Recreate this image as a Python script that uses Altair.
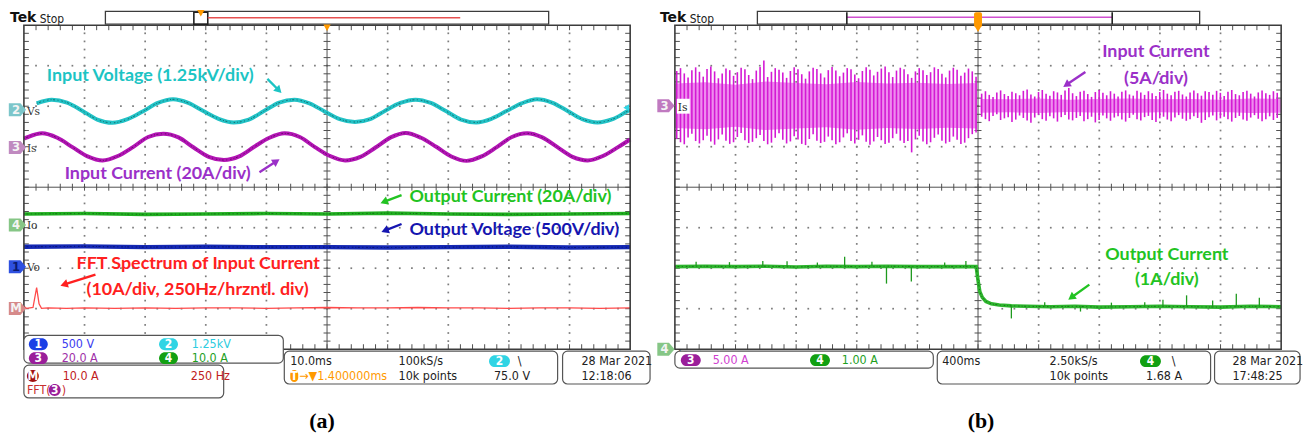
import math
import altair as alt
import pandas as pd

# ======================= DATA (scope divisions) =======================
# x: 0..10 horizontal divisions, y: -4..4 vertical divisions
def tgrid(start, step, n):
    return [round(start + step * i, 4) for i in range(n)]

# ---- Panel (a): 10 ms/div ----
VS_X = tgrid(0.21, 0.25, 40) + [10.0]
VS_Y = [2.07, 2.16, 2.09, 1.89, 1.67, 1.59, 1.68, 1.87,
        2.08, 2.17, 2.08, 1.88, 1.69, 1.60, 1.67, 1.88,
        2.09, 2.16, 2.07, 1.87, 1.68, 1.61, 1.68, 1.89,
        2.08, 2.16, 2.08, 1.88, 1.67, 1.60, 1.69, 1.88,
        2.07, 2.17, 2.09, 1.89, 1.68, 1.60, 1.68, 1.88, 1.91]
IS_X = [0.0] + tgrid(0.05, 0.25, 40) + [10.0]
IS_Y = [1.20,
        1.23, 1.33, 1.22, 0.99, 0.76, 0.66, 0.77, 0.99,
        1.24, 1.32, 1.23, 0.98, 0.75, 0.67, 0.76, 1.00,
        1.22, 1.33, 1.24, 0.99, 0.77, 0.66, 0.75, 0.98,
        1.23, 1.34, 1.22, 1.00, 0.76, 0.65, 0.76, 0.99,
        1.24, 1.33, 1.23, 0.99, 0.75, 0.66, 0.77, 0.99,
        1.18]
FLAT_X = [0, 1, 2, 3, 4, 5, 6, 7, 8, 9, 10]
IO_A_Y = [-0.66, -0.65, -0.67, -0.66, -0.65, -0.66, -0.64, -0.66, -0.67, -0.66, -0.65]
VO_A_Y = [-1.47, -1.46, -1.48, -1.47, -1.48, -1.48, -1.49, -1.48, -1.47, -1.49, -1.48]
FFT_X = [0.0, 0.04, 0.1, 0.15, 0.21, 0.25, 0.29, 0.4, 0.7, 1.0, 1.5, 2.0, 2.5, 3.0,
         3.5, 4.0, 4.5, 5.0, 5.5, 6.0, 6.5, 7.0, 7.5, 8.0, 8.5, 9.0, 9.5, 10.0]
FFT_Y = [-2.94, -2.99, -2.98, -2.97, -2.48, -2.88, -2.99, -2.98, -2.99, -2.98, -2.99,
         -2.98, -2.99, -2.98, -2.98, -2.99, -2.98, -2.97, -2.98, -2.98, -2.97, -2.98,
         -2.98, -2.99, -2.98, -2.98, -2.99, -2.98]

# ---- Panel (b): 400 ms/div ----
IS_B_LEVEL = 2.01
IS_B_LX = tgrid(0.03, 0.0625, 80)
IS_B_LTOP = [0.86, 0.93, 0.80, 0.70, 0.88, 0.95, 0.84, 0.72,
             0.91, 0.97, 0.85, 0.68, 0.80, 0.92, 0.88, 0.74,
             0.83, 0.94, 0.90, 0.76, 0.66, 0.87, 0.96, 1.12,
             0.71, 0.84, 0.93, 0.89, 0.82, 0.69, 0.86, 0.95,
             0.90, 0.78, 0.67, 0.85, 0.94, 0.91, 0.80, 0.70,
             0.88, 0.96, 0.87, 0.73, 0.82, 0.93, 0.90, 0.77,
             0.68, 0.86, 0.95, 0.89, 0.75, 0.84, 0.92, 0.97,
             0.83, 0.71, 0.87, 0.94, 0.90, 0.78, 0.69, 0.85,
             0.93, 0.88, 0.76, 0.83, 0.95, 0.91, 0.79, 0.70,
             0.87, 0.94, 0.89, 0.74, 0.82, 0.92, 0.85, 0.72]
IS_B_LBOT = [0.82, 0.90, 0.95, 0.78, 0.69, 0.87, 0.93, 0.85,
             0.74, 0.88, 0.96, 0.83, 0.71, 0.86, 0.94, 0.90,
             0.77, 0.67, 0.85, 0.92, 0.89, 0.80, 0.72, 0.87,
             0.95, 0.91, 0.79, 0.68, 0.84, 0.93, 0.88, 0.75,
             0.83, 0.94, 0.97, 0.82, 0.70, 0.86, 0.92, 0.89,
             0.76, 0.85, 0.95, 0.90, 0.78, 0.68, 0.87, 0.93,
             0.84, 0.73, 0.89, 0.96, 0.88, 0.77, 0.85, 0.94,
             0.91, 0.80, 0.69, 0.86, 0.92, 0.87, 1.15, 0.83,
             0.74, 0.88, 0.95, 0.90, 0.79, 0.71, 0.86, 0.93,
             0.89, 0.76, 0.84, 0.94, 0.91, 0.80, 0.70, 0.66]
IS_B_RX = tgrid(5.06, 0.0625, 79)
IS_B_RTOP = [0.30, 0.36, 0.27, 0.22, 0.33, 0.38, 0.29, 0.24,
             0.35, 0.31, 0.26, 0.37, 0.40, 0.28, 0.23, 0.34,
             0.39, 0.30, 0.25, 0.36, 0.33, 0.27, 0.38, 0.44,
             0.31, 0.24, 0.35, 0.37, 0.29, 0.22, 0.34, 0.39,
             0.32, 0.26, 0.36, 0.30, 0.23, 0.35, 0.38, 0.28,
             0.25, 0.37, 0.33, 0.27, 0.36, 0.31, 0.24, 0.34,
             0.39, 0.30, 0.26, 0.35, 0.37, 0.28, 0.23, 0.33,
             0.38, 0.31, 0.25, 0.36, 0.34, 0.27, 0.37, 0.32,
             0.24, 0.35, 0.39, 0.29, 0.26, 0.34, 0.37, 0.30,
             0.23, 0.33, 0.38, 0.31, 0.27, 0.36, 0.32]
IS_B_RBOT = [0.27, 0.33, 0.38, 0.25, 0.21, 0.35, 0.31, 0.28,
             0.40, 0.34, 0.24, 0.30, 0.36, 0.42, 0.29, 0.22,
             0.33, 0.37, 0.26, 0.31, 0.39, 0.28, 0.23, 0.34,
             0.36, 0.30, 0.25, 0.38, 0.33, 0.27, 0.41, 0.35,
             0.24, 0.31, 0.37, 0.29, 0.26, 0.34, 0.39, 0.30,
             0.22, 0.33, 0.36, 0.28, 0.25, 0.35, 0.40, 0.31,
             0.27, 0.34, 0.38, 0.29, 0.23, 0.32, 0.37, 0.33,
             0.26, 0.30, 0.42, 0.35, 0.28, 0.24, 0.36, 0.31,
             0.27, 0.33, 0.39, 0.30, 0.25, 0.34, 0.37, 0.29,
             0.23, 0.32, 0.38, 0.33, 0.26, 0.35, 0.30]
BAND_LX = [0.0, 0.5, 1.0, 1.5, 2.0, 2.5, 3.0, 3.5, 4.0, 4.5, 4.98]
BAND_LA = [0.55, 0.58, 0.52, 0.60, 0.56, 0.53, 0.59, 0.55, 0.57, 0.54, 0.56]
BAND_RX = [5.04, 5.5, 6.0, 6.5, 7.0, 7.5, 8.0, 8.5, 9.0, 9.5, 10.0]
BAND_RA = [0.17, 0.16, 0.18, 0.15, 0.17, 0.18, 0.16, 0.17, 0.15, 0.18, 0.17]

IO_B_X = [0, 0.5, 1.0, 1.5, 2.0, 2.5, 3.0, 3.5, 4.0, 4.5, 4.97, 5.0, 5.03, 5.07,
          5.13, 5.22, 5.35, 5.55, 5.8, 6.2, 6.6, 7.0, 7.5, 8.0, 8.5, 9.0, 9.5, 10.0]
IO_B_Y = [-1.96, -1.95, -1.96, -1.95, -1.97, -1.95, -1.96, -1.95, -1.96, -1.96,
          -1.96, -2.30, -2.58, -2.72, -2.82, -2.88, -2.91, -2.93, -2.94, -2.95,
          -2.94, -2.96, -2.95, -2.94, -2.95, -2.96, -2.94, -2.95]
SPK_X = [0.35, 0.9, 1.45, 1.85, 2.35, 2.80, 3.25, 3.49, 3.90, 4.45, 4.80,
         5.55, 6.1, 6.69, 7.2, 7.75, 8.05, 8.44, 8.87, 9.26, 9.64]
SPK_BASE = [-1.96, -1.95, -1.96, -1.95, -1.96, -1.96, -1.96, -1.96, -1.96, -1.96, -1.96,
            -2.93, -2.95, -2.95, -2.95, -2.95, -2.94, -2.95, -2.95, -2.95, -2.95]
SPK_TIP = [-1.84, -1.85, -1.82, -1.83, -1.86, -1.72, -1.84, -2.38, -2.33, -1.86, -1.82,
           -3.24, -2.84, -3.07, -2.85, -2.84, -2.78, -2.67, -2.80, -2.63, -2.73]

# ======================= LAYOUT =======================
LEFT = {"a": 22.0, "b": 677.0}
PXX, PXY = 61.0, 40.75     # pixels per division


def dx(px, p):
    return (px - LEFT[p]) / PXX


def dy(py):
    return (185.0 - py) / PXY


XS = alt.Scale(domain=[0, 10], nice=False, zero=False)
YS = alt.Scale(domain=[-4, 4], nice=False, zero=False)

SCOPE_FONT = "Liberation Sans Narrow, Arial Narrow, DejaVu Sans Condensed, sans-serif"
ANN_FONT = "Lato, Open Sans, sans-serif"


def XY(ch, x="x", y="y", x2=None, y2=None, **extra):
    e = dict(x=alt.X(x, type="quantitative", scale=XS, axis=None),
             y=alt.Y(y, type="quantitative", scale=YS, axis=None))
    if x2:
        e["x2"] = alt.X2(x2)
    if y2:
        e["y2"] = alt.Y2(y2)
    e.update(extra)
    return ch.encode(**e)


def line(xs, ys, **mk):
    df = pd.DataFrame({"x": xs, "y": ys})
    return XY(alt.Chart(df).mark_line(**mk))


def rects(rows, p, **mk):
    df = pd.DataFrame([{"x": dx(a, p), "y": dy(b), "x2": dx(c, p), "y2": dy(d)} for a, b, c, d in rows])
    return XY(alt.Chart(df).mark_rect(**mk), x2="x2", y2="y2")


def rules(rows, p, **mk):
    df = pd.DataFrame([{"x": dx(a, p), "y": dy(b), "x2": dx(c, p), "y2": dy(d)} for a, b, c, d in rows])
    return XY(alt.Chart(df).mark_rule(**mk), x2="x2", y2="y2")


def texts(rows, p, **mk):
    df = pd.DataFrame([{"x": dx(a, p), "y": dy(b), "t": t, "c": c} for a, b, t, c in rows])
    return XY(alt.Chart(df).mark_text(**mk), text=alt.Text("t:N"),
              color=alt.Color("c:N", scale=None))


def badges(rows, p):
    df = pd.DataFrame([{"x": dx(a, p), "x2": dx(b, p), "y": dy(yc - 6), "y2": dy(yc + 6),
                        "xc": dx((a + b) / 2, p), "yc": dy(yc), "c": c, "t": t}
                       for a, b, yc, c, t in rows])
    r = XY(alt.Chart(df).mark_rect(cornerRadius=6), x2="x2", y2="y2",
           color=alt.Color("c:N", scale=None))
    t = XY(alt.Chart(df).mark_text(font=SCOPE_FONT, fontSize=12, fontWeight="bold",
                                   color="white", align="center", baseline="middle"),
           x="xc", y="yc", text=alt.Text("t:N"))
    return [r, t]


PENTA = "M-1,-0.75L0.35,-0.75L1,0L0.35,0.75L-1,0.75Z"


def markers(rows, p):
    df = pd.DataFrame([{"x": dx(a, p), "y": dy(b), "c": c, "t": t, "tc": tc}
                       for a, b, c, t, tc in rows])
    m = XY(alt.Chart(df).mark_point(shape=PENTA, filled=True, size=300, opacity=1),
           color=alt.Color("c:N", scale=None))
    t = XY(alt.Chart(df).mark_text(font=SCOPE_FONT, fontSize=13, fontWeight="bold",
                                   align="center", baseline="middle", dx=-1.5),
           text=alt.Text("t:N"), color=alt.Color("tc:N", scale=None))
    return [m, t]


def arrows(rows, p):
    shafts, heads = [], []
    for x1, y1, x2, y2, c in rows:
        L = math.hypot(x2 - x1, y2 - y1)
        ux, uy = (x2 - x1) / L, (y2 - y1) / L
        ang = math.degrees(math.atan2(ux, -uy)) % 360
        shafts.append({"x": dx(x1, p), "y": dy(y1), "x2": dx(x2 - 4 * ux, p),
                       "y2": dy(y2 - 4 * uy), "c": c})
        heads.append({"x": dx(x2 - 3.5 * ux, p), "y": dy(y2 - 3.5 * uy), "c": c, "a": ang})
    s = XY(alt.Chart(pd.DataFrame(shafts)).mark_rule(strokeWidth=2.4), x2="x2", y2="y2",
           color=alt.Color("c:N", scale=None))
    h = XY(alt.Chart(pd.DataFrame(heads)).mark_point(shape="triangle-up", filled=True,
                                                     size=75, opacity=1),
           color=alt.Color("c:N", scale=None), angle=alt.Angle("a:Q", scale=None))
    return [s, h]


def grid():
    dots = []
    for yv in [-3, -2, -1, 1, 2, 3]:
        for i in range(1, 50):
            dots.append({"x": i * 0.2, "y": yv})
    for xv in [1, 2, 3, 4, 6, 7, 8, 9]:
        for j in range(1, 40):
            dots.append({"x": xv, "y": -4 + j * 0.2})
    d = XY(alt.Chart(pd.DataFrame(dots)).mark_square(size=3, color="#7d7d7d", opacity=1))
    segs = [{"x": 5, "y": -4, "x2": 5, "y2": 4}, {"x": 0, "y": 0, "x2": 10, "y2": 0}]
    hx = 3.5 / PXY
    vx = 3.5 / PXX
    bt = 5.0
    for i in range(1, 50):
        xv = i * 0.2
        segs.append({"x": xv, "y": -hx, "x2": xv, "y2": hx})
        segs.append({"x": xv, "y": 4, "x2": xv, "y2": 4 - bt / PXY})
        segs.append({"x": xv, "y": -4, "x2": xv, "y2": -4 + bt / PXY})
    for j in range(1, 40):
        yv = -4 + j * 0.2
        segs.append({"x": 5 - vx, "y": yv, "x2": 5 + vx, "y2": yv})
        segs.append({"x": 0, "y": yv, "x2": bt / PXX, "y2": yv})
        segs.append({"x": 10, "y": yv, "x2": 10 - bt / PXX, "y2": yv})
    r = XY(alt.Chart(pd.DataFrame(segs)).mark_rule(color="#505050", strokeWidth=1.0),
           x2="x2", y2="y2")
    return [d, r]


def border():
    df = pd.DataFrame([{"x": 0, "y": -4, "x2": 10, "y2": 4}])
    return XY(alt.Chart(df).mark_rect(fillOpacity=0, stroke="#3c3c3c", strokeWidth=1.6),
              x2="x2", y2="y2")


def header(p, bar, tek_x):
    L = [rects([bar], p, fill="white", stroke="#3c3c3c", strokeWidth=1.3)]
    L.append(texts([(tek_x, 15, "Tek", "#111111")], p, font="DejaVu Sans", fontSize=14,
                   fontWeight="bold", align="left", baseline="middle"))
    L.append(texts([(tek_x + 30, 16, "Stop", "#222222")], p, font=SCOPE_FONT, fontSize=12,
                   align="left", baseline="middle"))
    return L


BOX = dict(fill="white", stroke="#555555", strokeWidth=1.2, cornerRadius=5)
SMALL = dict(font=SCOPE_FONT, fontSize=12.5, align="left", baseline="middle")
ANN = dict(font=ANN_FONT, fontSize=18, fontWeight="bold", baseline="middle")
FUZZ = [1, 1.5, 2, 2.5, 1, 3, 1.5, 2]


def tri(rows, p, shape, size, color):
    df = pd.DataFrame([{"x": dx(a, p), "y": dy(b)} for a, b in rows])
    return XY(alt.Chart(df).mark_point(shape=shape, filled=True, size=size, color=color, opacity=1))


# ======================= PANEL (a) =======================
def panel_a():
    p = "a"
    L = [rects([(8, 8, 1307, 433)], p, fill="white")]
    L += grid()
    L.append(line(VS_X, VS_Y, color="#22C2C6", strokeWidth=4.0, interpolate="monotone"))
    L.append(line(VS_X, VS_Y, color="#0b3a3a", strokeWidth=1.0, interpolate="monotone",
                  strokeDash=FUZZ, opacity=0.6))
    L.append(line(IS_X, IS_Y, color="#B214B4", strokeWidth=4.0, interpolate="monotone"))
    L.append(line(IS_X, IS_Y, color="#3a063a", strokeWidth=1.0, interpolate="monotone",
                  strokeDash=FUZZ, opacity=0.6))
    L.append(line(FLAT_X, IO_A_Y, color="#1FAE1F", strokeWidth=3.6))
    L.append(line(FLAT_X, IO_A_Y, color="#0b4a0b", strokeWidth=1.0, strokeDash=FUZZ, opacity=0.6))
    L.append(line(FLAT_X, VO_A_Y, color="#1428B4", strokeWidth=4.4))
    L.append(line(FLAT_X, VO_A_Y, color="#050a50", strokeWidth=1.1, strokeDash=FUZZ, opacity=0.6))
    L.append(line(FFT_X, FFT_Y, color="#FF4A4A", strokeWidth=1.3))
    L.append(border())
    L += header(p, (104, 8, 550, 21), 8)
    L.append(rects([(193, 9, 207, 21)], p, fillOpacity=0, stroke="#222222", strokeWidth=1.6))
    L.append(rules([(207, 14.5, 461, 14.5)], p, color="#E65050", strokeWidth=1.3))
    L.append(tri([(200, 10), (327, 24.5)], p, "triangle-down", 55, "#FF9900"))
    L.append(tri([(628, 105)], p, "triangle-left", 45, "#30D6E6"))
    L += markers([(15.5, 107, "#7CC6CA", "2", "#F4F4F4"), (15.5, 145, "#C08AC0", "3", "#F4F4F4"),
                  (15.5, 223, "#86C686", "4", "#F4F4F4"), (15.5, 265, "#2E50E0", "1", "#0A1A70"),
                  (15.5, 307, "#D68A8A", "M", "#F4F4F4")], p)
    L.append(texts([(25, 108, "Vs", "#333333"), (25, 146, "Is", "#333333"),
                    (25, 223, "Io", "#333333"), (25, 265, "Vo", "#333333")], p,
                   font="DejaVu Serif Condensed, Liberation Serif, serif", fontSize=12,
                   align="left", baseline="middle"))
    L.append(texts([(45, 73, "Input Voltage (1.25kV/div)", "#1CC4C4"),
                    (63, 172, "Input Current (20A/div)", "#9B30C8"),
                    (410, 195, "Output Current (20A/div)", "#22C322"),
                    (410, 228, "Output Voltage (500V/div)", "#1515B0"),
                    (75, 262, "FFT Spectrum of Input Current", "#FF2020"),
                    (85, 288, "(10A/div, 250Hz/hrzntl. div)", "#FF2020")], p, align="left", **ANN))
    L += arrows([(267, 76, 281, 90, "#1CC4C4"), (259, 170, 279, 157, "#9B30C8"),
                 (402, 193, 381, 201, "#22C322"), (402, 222, 382, 230, "#1515B0"),
                 (94, 273, 59, 284, "#FF2020")], p)
    L.append(rects([(22, 334, 283, 362), (22, 364, 223, 397), (284, 350, 559, 383),
                    (564, 350, 652, 383)], p, **BOX))
    L += badges([(27, 46, 343, "#1A3FE6", "1"), (158, 177, 343, "#30D4E4", "2"),
                 (27, 46, 357, "#9A1E9A", "3"), (158, 177, 357, "#12A012", "4"),
                 (25, 37, 375, "#A01212", "M"), (47, 59, 389, "#9A1E9A", "3"),
                 (490, 511, 360, "#30D4E4", "2"), (290, 298, 375, "#FF9A00", "T")], p)
    L.append(texts([(60, 343, "500 V", "#3A3AF0"), (191, 343, "1.25kV", "#2CCCE0"),
                    (60, 357, "20.0 A", "#A030A8"), (191, 357, "10.0 A", "#1EA01E"),
                    (61, 375, "10.0 A", "#C02020"), (190, 375, "250 Hz", "#C02020"),
                    (25, 389, "FFT(", "#C83030"), (60, 389, ")", "#C83030"),
                    (290, 360, "10.0ms", "#222222"), (399, 360, "100kS/s", "#222222"),
                    (519, 360, "\\", "#222222"),
                    (299, 375, "\u2192\u25BC1.400000ms", "#FF9A00"),
                    (399, 375, "10k points", "#222222"), (495, 375, "75.0 V", "#222222"),
                    (583, 360, "28 Mar  2021", "#222222"), (583, 375, "12:18:06", "#222222")],
                   p, **SMALL))
    L.append(texts([(322, 420, "(a)", "#000000")], p, font="Liberation Serif, serif",
                   fontSize=22, fontWeight="bold", align="center", baseline="middle"))
    return alt.layer(*L).properties(width=610, height=326)


# ======================= PANEL (b) =======================
def panel_b():
    p = "b"
    L = grid()
    bl = pd.DataFrame({"x": BAND_LX, "y": [IS_B_LEVEL + a for a in BAND_LA],
                       "y2": [IS_B_LEVEL - a for a in BAND_LA]})
    br = pd.DataFrame({"x": BAND_RX, "y": [IS_B_LEVEL + a for a in BAND_RA],
                       "y2": [IS_B_LEVEL - a for a in BAND_RA]})
    L.append(XY(alt.Chart(bl).mark_area(color="#EE8CEE", opacity=1), y2="y2"))
    L.append(XY(alt.Chart(br).mark_area(color="#EE8CEE", opacity=1), y2="y2"))
    st = pd.DataFrame({"x": IS_B_LX + IS_B_RX,
                       "y": [IS_B_LEVEL + t for t in IS_B_LTOP + IS_B_RTOP],
                       "y2": [IS_B_LEVEL - b for b in IS_B_LBOT + IS_B_RBOT]})
    L.append(XY(alt.Chart(st).mark_rule(color="#D41AD4", strokeWidth=1.6), y2="y2"))
    L.append(line(IO_B_X, IO_B_Y, color="#2DB52D", strokeWidth=3.6))
    L.append(line(IO_B_X, IO_B_Y, color="#0b4a0b", strokeWidth=1.0, strokeDash=FUZZ, opacity=0.6))
    sp = pd.DataFrame({"x": SPK_X, "y": SPK_BASE, "y2": SPK_TIP})
    L.append(XY(alt.Chart(sp).mark_rule(color="#1E9A1E", strokeWidth=1.3), y2="y2"))
    L.append(border())
    L += header(p, (760, 8, 1205, 21), 662)
    L.append(rules([(850, 14, 1117, 14)], p, color="#D050D0", strokeWidth=1.3))
    L.append(rules([(850, 9, 850, 21), (1117, 9, 1117, 21)], p, color="#222222", strokeWidth=1.6))
    L.append(rects([(978, 9, 986, 24)], p, fill="#FF9900", cornerRadius=2))
    L.append(tri([(982, 26)], p, "triangle-down", 45, "#FF9900"))
    L.append(rects([(679, 96, 692, 111)], p, fill="white"))
    L += markers([(668, 103, "#C07AC0", "3", "#F4F4F4"), (668, 348, "#86C686", "4", "#F4F4F4")], p)
    L.append(texts([(680, 104, "Is", "#222222"), (680, 352, "Io", "#333333")], p,
                   font="DejaVu Serif Condensed, Liberation Serif, serif", fontSize=12,
                   align="left", baseline="middle"))
    L.append(texts([(1161, 49, "Input Current", "#9B30C8"), (1161, 76, "(5A/div)", "#9B30C8"),
                    (1172, 253, "Output Current", "#22C322"), (1172, 278, "(1A/div)", "#22C322")],
                   p, align="center", **ANN))
    L += arrows([(1090, 69, 1068, 84, "#9B30C8"), (1094, 283, 1073, 298, "#22C322")], p)
    L.append(rects([(677, 350, 937, 367), (941, 350, 1216, 383), (1220, 350, 1306, 383)], p, **BOX))
    L += badges([(683, 703, 359, "#9A1E9A", "3"), (813, 833, 359, "#12A012", "4"),
                 (1145, 1166, 360, "#12A012", "4")], p)
    L.append(texts([(715, 359, "5.00 A", "#D040D0"), (845, 359, "1.00 A", "#1EA01E"),
                    (946, 360, "400ms", "#222222"), (1054, 360, "2.50kS/s", "#222222"),
                    (1177, 360, "\\", "#222222"), (1054, 375, "10k points", "#222222"),
                    (1151, 375, "1.68 A", "#222222"),
                    (1238, 360, "28 Mar  2021", "#222222"), (1238, 375, "17:48:25", "#222222")],
                   p, **SMALL))
    L.append(texts([(985, 420, "(b)", "#000000")], p, font="Liberation Serif, serif",
                   fontSize=22, fontWeight="bold", align="center", baseline="middle"))
    return alt.layer(*L).properties(width=610, height=326)


chart = alt.hconcat(panel_a(), panel_b(), spacing=45, bounds="flush").properties(
    padding=0, background="white"
).configure_view(stroke=None)

chart.save("out.html", embed_options={"renderer": "svg", "actions": False})
